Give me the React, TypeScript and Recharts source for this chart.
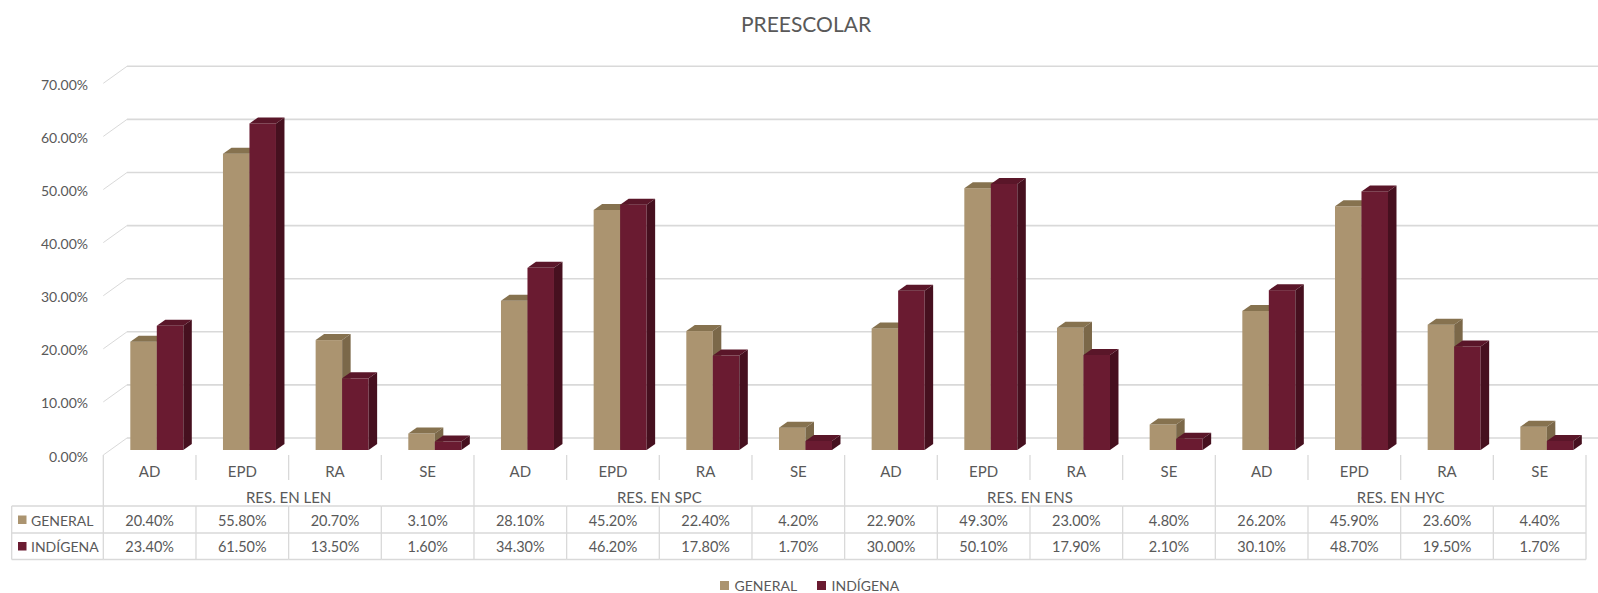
import React from 'react';
import { BarChart, Bar, XAxis, YAxis, CartesianGrid, Legend } from 'recharts';

// ---------- data ----------
const groups = ['RES. EN LEN', 'RES. EN SPC', 'RES. EN ENS', 'RES. EN HYC'];
const categories = ['AD', 'EPD', 'RA', 'SE'];
const generalValues = [20.4, 55.8, 20.7, 3.1, 28.1, 45.2, 22.4, 4.2, 22.9, 49.3, 23.0, 4.8, 26.2, 45.9, 23.6, 4.4];
const indigenaValues = [23.4, 61.5, 13.5, 1.6, 34.3, 46.2, 17.8, 1.7, 30.0, 50.1, 17.9, 2.1, 30.1, 48.7, 19.5, 1.7];
const yTicks = [0, 10, 20, 30, 40, 50, 60, 70];
const seriesNames = ['GENERAL', 'INDÍGENA'];

const data = generalValues.map((g, i) => ({
  key: `${groups[Math.floor(i / 4)]}|${categories[i % 4]}`,
  cat: categories[i % 4],
  group: groups[Math.floor(i / 4)],
  general: g,
  indigena: indigenaValues[i],
}));

// ---------- layout / style ----------
const W = 1598;
const H = 593;
const FONT = 'Lato, "Open Sans", sans-serif';
const TEXT = '#595959';
const LINE = '#d9d9d9';
const CAT_W = (1586 - 103.3) / 16;
const FRONT_DX = 7; // bar plane -> front plane x shift
const BACK_DX = 16.7; // bar plane -> back wall x shift
const BACK_DY = -12;
const DEPTH_DX = 8.5;
const DEPTH_DY = 6;

const GEN = { front: '#AB9470', top: '#86724F', side: '#7B6849' };
const IND = { front: '#6A1B31', top: '#5A1629', side: '#46101F' };

const ROW_TOP = 506;
const ROW_MID = 533;
const ROW_BOT = 559.5;
const TABLE_LEFT = 11.7;

function Bar3D(props: any) {
  const { x, y, width, height, colors } = props;
  if (x == null || y == null) return null;
  const h = Math.max(0, height);
  const dx = DEPTH_DX;
  const dy = DEPTH_DY;
  return (
    <g>
      <rect x={x} y={y} width={width} height={h} fill={colors.front} />
      <path
        d={`M${x},${y} L${x + dx},${y - dy} L${x + width + dx},${y - dy} L${x + width},${y} Z`}
        fill={colors.top}
      />
      <path
        d={`M${x + width},${y} L${x + width + dx},${y - dy} L${x + width + dx},${y + h - dy} L${x + width},${y + h} Z`}
        fill={colors.side}
      />
    </g>
  );
}

function GridLine(props: any) {
  const { x1, y1, key } = props;
  const bx = x1 + BACK_DX;
  const by = y1 + BACK_DY;
  const fx = x1 - FRONT_DX;
  const fy = by + 17;
  return (
    <g key={key}>
      <line x1={bx} y1={by} x2={W} y2={by} stroke={LINE} strokeWidth={1.6} />
      <line x1={fx} y1={fy} x2={bx} y2={by} stroke={LINE} strokeWidth={1} />
    </g>
  );
}

function YTick(props: any) {
  const { y, payload } = props;
  return (
    <text x={88} y={y + 6} textAnchor="end" dominantBaseline="central" fill={TEXT} fontSize={14}>
      {`${Number(payload.value).toFixed(2)}%`}
    </text>
  );
}

function XTick(props: any) {
  const { x, payload } = props;
  const i = data.findIndex((d) => d.key === payload.value);
  if (i < 0) return null;
  const d = data[i];
  const cx = x - FRONT_DX;
  const left = cx - CAT_W / 2;
  const right = cx + CAT_W / 2;
  const els: any[] = [];
  // category row separators
  if (i % 4 === 0) {
    els.push(<line key="gl" x1={left} y1={455} x2={left} y2={ROW_TOP} stroke={LINE} strokeWidth={1.3} />);
  } else {
    els.push(<line key="cl" x1={left} y1={455} x2={left} y2={480} stroke={LINE} strokeWidth={1.3} />);
  }
  if (i === data.length - 1) {
    els.push(<line key="gr" x1={right} y1={455} x2={right} y2={ROW_TOP} stroke={LINE} strokeWidth={1.3} />);
  }
  els.push(
    <text key="cat" x={cx} y={471} textAnchor="middle" dominantBaseline="central" fill={TEXT} fontSize={15}>
      {d.cat}
    </text>
  );
  if (i % 4 === 1) {
    els.push(
      <text key="grp" x={right} y={497} textAnchor="middle" dominantBaseline="central" fill={TEXT} fontSize={15}>
        {d.group}
      </text>
    );
  }
  // data table
  els.push(<line key="tv" x1={left} y1={ROW_TOP} x2={left} y2={ROW_BOT} stroke={LINE} strokeWidth={1.3} />);
  if (i === data.length - 1) {
    els.push(<line key="tvr" x1={right} y1={ROW_TOP} x2={right} y2={ROW_BOT} stroke={LINE} strokeWidth={1.3} />);
  }
  [ROW_TOP, ROW_MID, ROW_BOT].forEach((ry, k) => {
    els.push(<line key={`th${k}`} x1={left} y1={ry} x2={right} y2={ry} stroke={LINE} strokeWidth={1.3} />);
  });
  els.push(
    <text key="v1" x={cx} y={520} textAnchor="middle" dominantBaseline="central" fill={TEXT} fontSize={14.5}>
      {`${d.general.toFixed(2)}%`}
    </text>
  );
  els.push(
    <text key="v2" x={cx} y={546.5} textAnchor="middle" dominantBaseline="central" fill={TEXT} fontSize={14.5}>
      {`${d.indigena.toFixed(2)}%`}
    </text>
  );
  if (i === 0) {
    [ROW_TOP, ROW_MID, ROW_BOT].forEach((ry, k) => {
      els.push(<line key={`lh${k}`} x1={TABLE_LEFT} y1={ry} x2={left} y2={ry} stroke={LINE} strokeWidth={1.3} />);
    });
    els.push(<line key="lv" x1={TABLE_LEFT} y1={ROW_TOP} x2={TABLE_LEFT} y2={ROW_BOT} stroke={LINE} strokeWidth={1.3} />);
    [GEN.front, IND.front].forEach((c, k) => {
      const ry = k === 0 ? 520 : 546.5;
      els.push(<rect key={`sq${k}`} x={18} y={ry - 4.5} width={8.5} height={8.5} fill={c} />);
      els.push(
        <text key={`ln${k}`} x={31} y={ry} dominantBaseline="central" fill={TEXT} fontSize={14}>
          {seriesNames[k]}
        </text>
      );
    });
  }
  return <g>{els}</g>;
}

function LegendContent() {
  return (
    <div
      style={{
        display: 'flex',
        justifyContent: 'center',
        alignItems: 'center',
        gap: 20,
        fontSize: 14,
        color: TEXT,
        paddingTop: 8,
        paddingLeft: 16,
      }}
    >
      {[GEN.front, IND.front].map((c, k) => (
        <span key={k} style={{ display: 'flex', alignItems: 'center' }}>
          <span style={{ display: 'inline-block', width: 8.5, height: 8.5, background: c, marginRight: 6 }} />
          {seriesNames[k]}
        </span>
      ))}
    </div>
  );
}

export default function App() {
  return (
    <div
      style={{
        position: 'absolute',
        left: 0,
        top: 0,
        width: W,
        height: H,
        background: '#fff',
        fontFamily: FONT,
      }}
    >
      <div
        style={{
          position: 'absolute',
          left: 0,
          width: W,
          top: 11,
          textAlign: 'center',
          fontSize: 21,
          color: TEXT,
          paddingLeft: 14,
          boxSizing: 'border-box',
        }}
      >
        PREESCOLAR
      </div>
      <BarChart
        width={W}
        height={H}
        data={data}
        margin={{ top: 78.3, right: 5, left: 10.3, bottom: 0 }}
        barGap={0}
        barSize={26.5}
      >
        <CartesianGrid vertical={false} horizontal={(p: any) => <GridLine {...p} />} />
        <YAxis
          width={100}
          domain={[0, 70]}
          ticks={yTicks}
          axisLine={false}
          tickLine={false}
          tick={<YTick />}
          interval={0}
        />
        <XAxis
          dataKey="key"
          height={119}
          axisLine={false}
          tickLine={false}
          interval={0}
          tick={<XTick />}
        />
        <Legend verticalAlign="bottom" height={24} content={<LegendContent />} />
        <Bar dataKey="general" name="GENERAL" isAnimationActive={false} shape={(p: any) => <Bar3D {...p} colors={GEN} />} />
        <Bar dataKey="indigena" name="INDÍGENA" isAnimationActive={false} shape={(p: any) => <Bar3D {...p} colors={IND} />} />
      </BarChart>
    </div>
  );
}
